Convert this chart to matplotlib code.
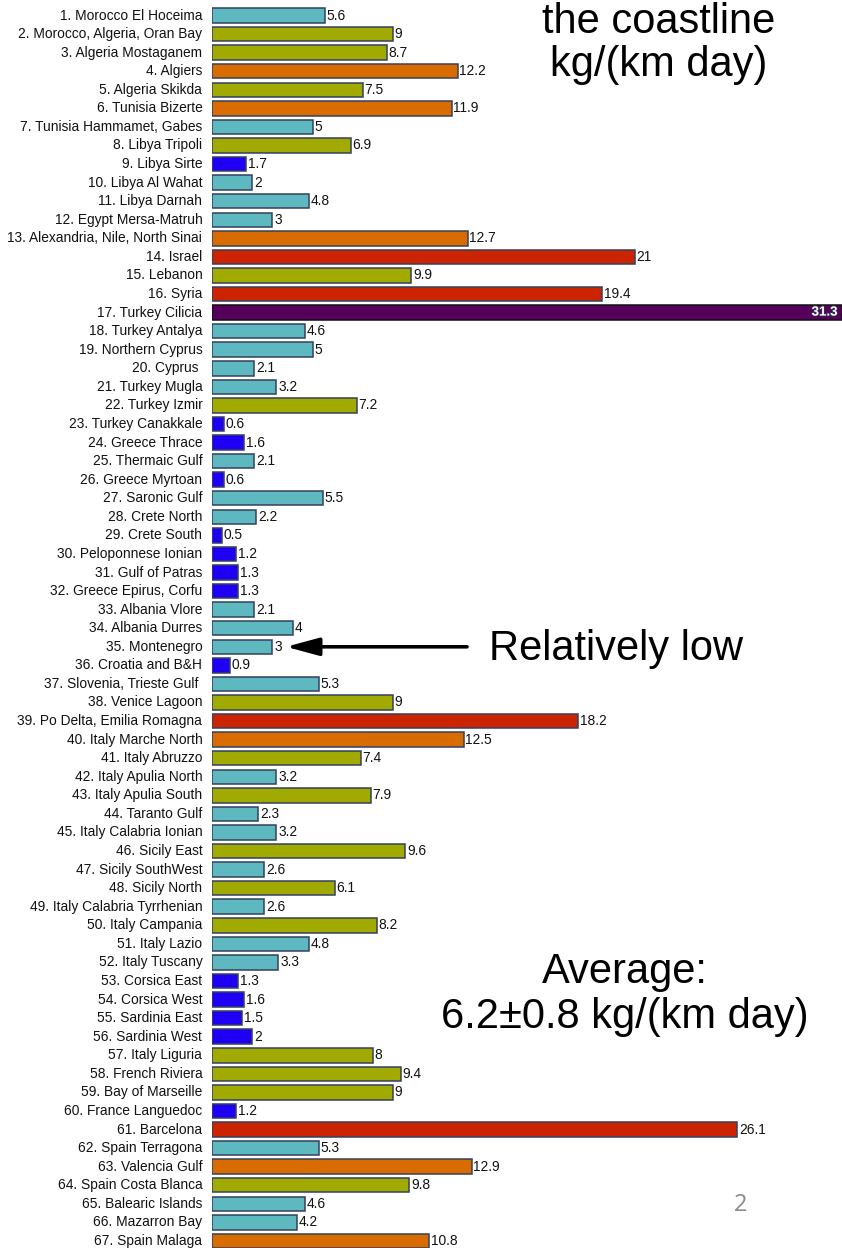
import matplotlib
matplotlib.use("Agg")
import matplotlib.pyplot as plt
import matplotlib.patheffects as pe

labels = [
    "1. Morocco El Hoceima", "2. Morocco, Algeria, Oran Bay", "3. Algeria Mostaganem",
    "4. Algiers", "5. Algeria Skikda", "6. Tunisia Bizerte", "7. Tunisia Hammamet, Gabes",
    "8. Libya Tripoli", "9. Libya Sirte", "10. Libya Al Wahat", "11. Libya Darnah",
    "12. Egypt Mersa-Matruh", "13. Alexandria, Nile, North Sinai", "14. Israel",
    "15. Lebanon", "16. Syria", "17. Turkey Cilicia", "18. Turkey Antalya",
    "19. Northern Cyprus", "20. Cyprus ", "21. Turkey Mugla", "22. Turkey Izmir",
    "23. Turkey Canakkale", "24. Greece Thrace", "25. Thermaic Gulf", "26. Greece Myrtoan",
    "27. Saronic Gulf", "28. Crete North", "29. Crete South", "30. Peloponnese Ionian",
    "31. Gulf of Patras", "32. Greece Epirus, Corfu", "33. Albania Vlore",
    "34. Albania Durres", "35. Montenegro", "36. Croatia and B&H",
    "37. Slovenia, Trieste Gulf ", "38. Venice Lagoon", "39. Po Delta, Emilia Romagna",
    "40. Italy Marche North", "41. Italy Abruzzo", "42. Italy Apulia North",
    "43. Italy Apulia South", "44. Taranto Gulf", "45. Italy Calabria Ionian",
    "46. Sicily East", "47. Sicily SouthWest", "48. Sicily North",
    "49. Italy Calabria Tyrrhenian", "50. Italy Campania", "51. Italy Lazio",
    "52. Italy Tuscany", "53. Corsica East", "54. Corsica West", "55. Sardinia East",
    "56. Sardinia West", "57. Italy Liguria", "58. French Riviera", "59. Bay of Marseille",
    "60. France Languedoc", "61. Barcelona", "62. Spain Terragona", "63. Valencia Gulf",
    "64. Spain Costa Blanca", "65. Balearic Islands", "66. Mazarron Bay", "67. Spain Malaga",
]

values = [
    5.6, 9, 8.7, 12.2, 7.5, 11.9, 5, 6.9, 1.7, 2, 4.8, 3, 12.7, 21, 9.9, 19.4, 31.3,
    4.6, 5, 2.1, 3.2, 7.2, 0.6, 1.6, 2.1, 0.6, 5.5, 2.2, 0.5, 1.2, 1.3, 1.3, 2.1, 4,
    3, 0.9, 5.3, 9, 18.2, 12.5, 7.4, 3.2, 7.9, 2.3, 3.2, 9.6, 2.6, 6.1, 2.6, 8.2, 4.8,
    3.3, 1.3, 1.6, 1.5, 2, 8, 9.4, 9, 1.2, 26.1, 5.3, 12.9, 9.8, 4.6, 4.2, 10.8,
]

value_text = [
    "5.6", "9", "8.7", "12.2", "7.5", "11.9", "5", "6.9", "1.7", "2", "4.8", "3", "12.7",
    "21", "9.9", "19.4", "31.3", "4.6", "5", "2.1", "3.2", "7.2", "0.6", "1.6", "2.1",
    "0.6", "5.5", "2.2", "0.5", "1.2", "1.3", "1.3", "2.1", "4", "3", "0.9", "5.3", "9",
    "18.2", "12.5", "7.4", "3.2", "7.9", "2.3", "3.2", "9.6", "2.6", "6.1", "2.6", "8.2",
    "4.8", "3.3", "1.3", "1.6", "1.5", "2", "8", "9.4", "9", "1.2", "26.1", "5.3",
    "12.9", "9.8", "4.6", "4.2", "10.8",
]

# colour class per bar: B blue, T teal, O olive, R orange, D red, P purple
classes = [
    "T", "O", "O", "R", "O", "R", "T", "O", "B", "T",   # 1-10
    "T", "T", "R", "D", "O", "D", "P", "T", "T", "T",   # 11-20
    "T", "O", "B", "B", "T", "B", "T", "T", "B", "B",   # 21-30
    "B", "B", "T", "T", "T", "B", "T", "O", "D", "R",   # 31-40
    "O", "T", "O", "T", "T", "O", "T", "O", "T", "O",   # 41-50
    "T", "T", "B", "B", "B", "B", "O", "O", "O", "B",   # 51-60
    "D", "T", "R", "O", "T", "T", "R",                  # 61-67
]

palette = {
    "B": "#2000f5",
    "T": "#5db8bf",
    "O": "#a0aa00",
    "R": "#d96c00",
    "D": "#cc2400",
    "P": "#55005a",
}

W, H, DPI = 842, 1248, 100
fig = plt.figure(figsize=(W / DPI, H / DPI), dpi=DPI)
fig.patch.set_facecolor("white")

left_px = 212
ax = fig.add_axes([left_px / W, 0.0, 1 - left_px / W, 1.0])
ax.set_facecolor("none")

n = len(values)
pos = list(range(n))
colors = [palette[c] for c in classes]
edges = ["#111111" if c == "P" else "#34405e" for c in classes]

ax.barh(pos, values, height=0.78, color=colors, edgecolor=edges, linewidth=1.1, zorder=2)

ax.set_xlim(0, 31.3)
ax.set_ylim(66.38, -0.835)
ax.set_yticks([])
ax.set_xticks([])
for s in ax.spines.values():
    s.set_visible(False)

FAM = ["Liberation Sans", "DejaVu Sans"]
lab_font = dict(family=FAM, fontsize=9.9, color="#111111")
for i, (lab, v, t, c) in enumerate(zip(labels, values, value_text, classes)):
    ax.annotate(lab, xy=(0, i), xytext=(-7, 0), textcoords="offset points",
                ha="right", va="center", annotation_clip=False, **lab_font)
    if c == "P":
        ax.annotate(t, xy=(v, i), xytext=(-3, 0), textcoords="offset points",
                    ha="right", va="center", fontsize=9.6, fontweight="bold",
                    family=FAM, color="white",
                    path_effects=[pe.withStroke(linewidth=1.2, foreground="#333355")])
    else:
        ax.annotate(t, xy=(v, i), xytext=(1.2, 0), textcoords="offset points",
                    ha="left", va="center", **lab_font)

big = dict(family=FAM, fontsize=30, color="black")
fig.text(659 / W, 1 - 33 / H, "the coastline", ha="center", va="baseline", **big)
fig.text(659 / W, 1 - 76 / H, "kg/(km day)", ha="center", va="baseline", **big)
fig.text(616 / W, 1 - 660 / H, "Relatively low", ha="center", va="baseline", **big)
fig.text(625 / W, 1 - 983 / H, "Average:", ha="center", va="baseline", **big)
fig.text(625 / W, 1 - 1028 / H, "6.2\u00b10.8 kg/(km day)", ha="center", va="baseline", **big)
fig.text(741 / W, 1 - 1205 / H, "2", ha="center", va="center", fontsize=17,
         family=["Open Sans", "DejaVu Sans"], color="#8a8a8a")

# arrow pointing at Montenegro's value label
k = 34
ax.annotate("", xy=(values[k], k), xytext=(12.67, k),
            textcoords="data", annotation_clip=False,
            arrowprops=dict(arrowstyle="-|>,head_length=1.0,head_width=0.27",
                            mutation_scale=20, color="black", lw=2.6,
                            shrinkA=0, shrinkB=9.8))

fig.savefig("out.png", dpi=DPI, facecolor="white")
